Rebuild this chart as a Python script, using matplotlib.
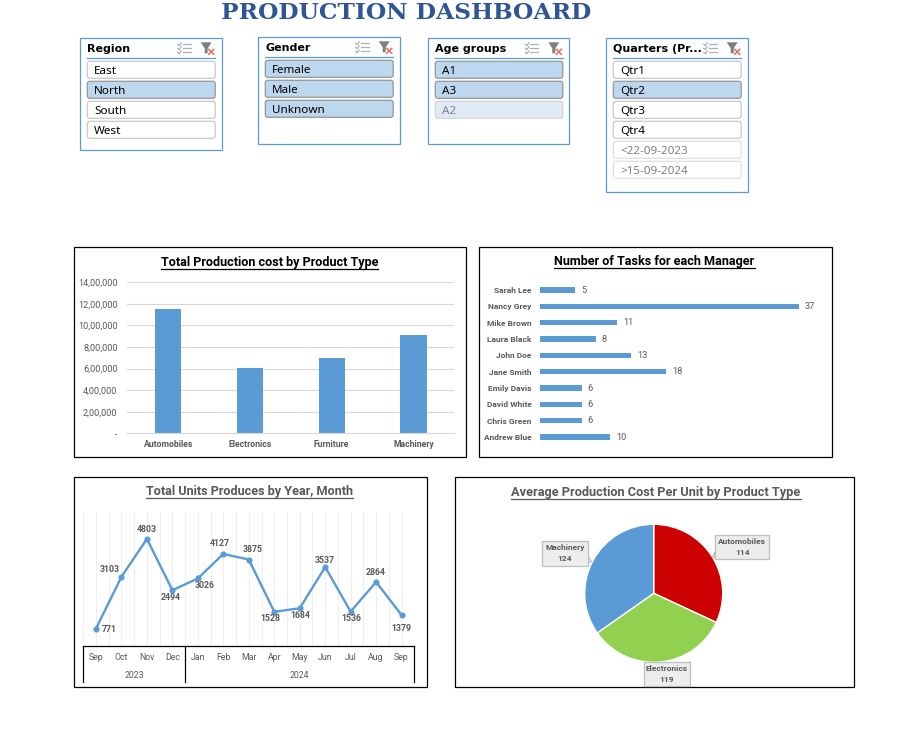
import matplotlib
matplotlib.use("Agg")
import matplotlib.pyplot as plt
from matplotlib.patches import FancyBboxPatch, Rectangle, Polygon

W, H = 898, 748

# data
product_types = ["Automobiles", "Electronics", "Furniture", "Machinery"]
production_cost = [1152000, 605000, 698000, 912000]
cost_ticks = [0, 200000, 400000, 600000, 800000, 1000000, 1200000, 1400000]
cost_tick_labels = ["-", "2,00,000", "4,00,000", "6,00,000", "8,00,000", "10,00,000", "12,00,000", "14,00,000"]

managers = ["Andrew Blue", "Chris Green", "David White", "Emily Davis", "Jane Smith",
            "John Doe", "Laura Black", "Mike Brown", "Nancy Grey", "Sarah Lee"]
tasks = [10, 6, 6, 6, 18, 13, 8, 11, 37, 5]

months = ["Sep", "Oct", "Nov", "Dec", "Jan", "Feb", "Mar", "Apr", "May", "Jun", "Jul", "Aug", "Sep"]
units = [771, 3103, 4803, 2494, 3026, 4127, 3875, 1528, 1684, 3537, 1536, 2864, 1379]
years = ["2023", "2024"]

pie_types = ["Automobiles", "Electronics", "Machinery"]
pie_values = [114, 119, 124]
pie_colors = ["#CC0000", "#92D050", "#5B9BD5"]

region_items = ["East", "North", "South", "West"]
gender_items = ["Female", "Male", "Unknown"]
age_items = ["A1", "A3", "A2"]
quarter_items = ["Qtr1", "Qtr2", "Qtr3", "Qtr4", "<22-09-2023", ">15-09-2024"]

BLUE = "#5B9BD5"
GREY_TXT = "#595959"

plt.rcParams["font.family"] = ["Roboto", "DejaVu Sans"]

fig = plt.figure(figsize=(W / 100, H / 100), dpi=100, facecolor="white")


def pixel_layer(z):
    # full-figure axes whose data coordinates are image pixels
    a = fig.add_axes([0, 0, 1, 1], zorder=z)
    a.set_xlim(0, W)
    a.set_ylim(H, 0)
    a.axis("off")
    a.patch.set_alpha(0)
    return a


bg = pixel_layer(0)
fg = pixel_layer(5)


def px_axes(x0, y0, x1, y1):
    a = fig.add_axes([x0 / W, 1 - y1 / H, (x1 - x0) / W, (y1 - y0) / H], zorder=2)
    a.patch.set_alpha(0)
    return a


def frame(x0, y0, x1, y1):
    bg.add_patch(Rectangle((x0, y0), x1 - x0, y1 - y0, fc="white", ec="black", lw=0.9))


def chart_title(cx, cy, text, color, size):
    t = fg.text(cx, cy, text, ha="center", va="center", fontsize=size, fontweight="bold", color=color)
    box = t.get_window_extent(fig.canvas.get_renderer())
    fg.plot([box.x0, box.x1], [cy + 6.5, cy + 6.5], color=color, lw=0.9)


def slicer_icons(x, y):
    # the multi-select and clear-filter glyphs in the slicer header
    for i in range(3):
        yy = y - 4 + i * 4
        bg.plot([x, x + 1.5, x + 3.5], [yy, yy + 1.5, yy - 1.5], color="#A6A6A6", lw=0.8)
        bg.plot([x + 5, x + 13], [yy, yy], color="#B0B0B0", lw=0.9)
    bg.add_patch(Polygon([(x + 23, y - 6), (x + 34, y - 6), (x + 30, y), (x + 30, y + 5), (x + 27, y + 5), (x + 27, y)],
                         fc="#7F7F7F", ec="none"))
    bg.plot([x + 31, x + 36], [y + 1, y + 6], color="#E46C5A", lw=1.1)
    bg.plot([x + 31, x + 36], [y + 6, y + 1], color="#E46C5A", lw=1.1)


def slicer(x0, y0, x1, y1, title, items, selected, faded=()):
    bg.add_patch(Rectangle((x0, y0), x1 - x0, y1 - y0, fc="white", ec=BLUE, lw=0.9))
    bg.text(x0 + 7, y0 + 10.5, title, fontsize=8, fontweight="bold", color="black",
            va="center", ha="left", family="DejaVu Sans", zorder=4)
    bg.plot([x0 + 7, x1 - 6.5], [y0 + 20, y0 + 20], color=BLUE, lw=0.9)
    slicer_icons(x1 - 44, y0 + 10)
    for i, name in enumerate(items):
        top = y0 + 23 + i * 20
        on = name in selected
        if name in faded and on:
            fc, ec, tc = "#DEEAF6", "#D0D7DE", "#808080"
        elif name in faded:
            fc, ec, tc = "white", "#E0E0E0", "#808080"
        elif on:
            fc, ec, tc = "#BDD7EE", "#969696", "black"
        else:
            fc, ec, tc = "white", "#C8C8C8", "black"
        bg.add_patch(FancyBboxPatch((x0 + 7, top), x1 - x0 - 13.5, 17,
                                    boxstyle="round,pad=0,rounding_size=2.5", fc=fc, ec=ec, lw=0.9))
        bg.text(x0 + 14, top + 10, name, fontsize=8.4, color=tc, va="center", ha="left",
                family="Noto Sans", zorder=4)


# dashboard heading
bg.text(406, 12.5, "PRODUCTION DASHBOARD", fontsize=16.8, fontweight="bold", color="#2F5597",
        ha="center", va="center", family="DejaVu Serif")

# slicers
slicer(80.3, 38.3, 221.7, 150.3, "Region", region_items, ["North"])
slicer(258.3, 37.3, 399.7, 144.3, "Gender", gender_items, gender_items)
slicer(428.3, 38.3, 569.3, 144.3, "Age groups", age_items, age_items, faded=["A2"])
slicer(606.3, 38.3, 747.7, 192.3, "Quarters (Pr...", quarter_items, ["Qtr2"],
       faded=["<22-09-2023", ">15-09-2024"])

# chart frames
frame(74, 246.5, 465.5, 456.5)
frame(478.5, 246.5, 831.5, 456.5)
frame(73.5, 476.5, 426.5, 686.5)
frame(454.5, 476.5, 853.5, 686.5)

chart_title(269.5, 262.5, "Total Production cost by Product Type", "black", 9.1)
chart_title(654.5, 261.5, "Number of Tasks for each Manager", "black", 9.1)
chart_title(249.5, 491.5, "Total Units Produces by Year, Month", GREY_TXT, 9.1)
chart_title(656, 492.5, "Average Production Cost Per Unit by Product Type", GREY_TXT, 9.2)

# column chart
ax1 = px_axes(127.3, 282.3, 454.3, 433.3)
ax1.bar(range(4), production_cost, width=0.32, color=BLUE, zorder=2)
ax1.set_xlim(-0.5, 3.5)
ax1.set_ylim(0, 1400000)
ax1.set_yticks(cost_ticks, cost_tick_labels, fontsize=6.6, color=GREY_TXT)
ax1.set_xticks(range(4), product_types, fontsize=6.2, color=GREY_TXT, fontweight="bold")
ax1.grid(axis="y", color="#D9D9D9", lw=0.8, zorder=0)
ax1.tick_params(axis="y", length=0, pad=7)
ax1.tick_params(axis="x", length=0, pad=4.5)
for s in ["top", "right", "left"]:
    ax1.spines[s].set_visible(False)
ax1.spines["bottom"].set_color("#D9D9D9")

# horizontal bars
ax2 = px_axes(540, 282, 820, 445.2)
ax2.barh(range(10), tasks, height=0.33, color=BLUE)
ax2.set_xlim(0, 40)
ax2.set_ylim(-0.5, 9.5)
ax2.set_xticks([])
ax2.set_yticks(range(10), managers, fontsize=6.0, color=GREY_TXT, fontweight="bold")
ax2.tick_params(length=0, pad=6)
for s in ax2.spines.values():
    s.set_visible(False)
for i, v in enumerate(tasks):
    ax2.annotate(str(v), (v, i), xytext=(4.2, 0), textcoords="offset points", va="center",
                 fontsize=6.6, color=GREY_TXT)

# line chart
ax3 = px_axes(83.3, 512.3, 414.3, 645.7)
xs = range(len(units))
ax3.plot(xs, units, color=BLUE, lw=1.7, marker="o", ms=3.4, zorder=3)
ax3.set_xlim(-0.5, 12.5)
ax3.set_ylim(0, 6000)
ax3.set_yticks([])
ax3.set_xticks([i * 0.5 - 0.5 for i in range(27)])
ax3.set_xticklabels([])
ax3.grid(axis="x", color="#EFEFEF", lw=0.8, zorder=0)
ax3.tick_params(length=0)
for s in ["top", "right", "left"]:
    ax3.spines[s].set_visible(False)
ax3.spines["bottom"].set_color("black")
ax3.spines["bottom"].set_linewidth(0.9)

# pixel offsets of each data label from its point
label_offsets = [(13, -1), (-12, 7), (0, 9), (-1.5, -7), (7, -7), (-3.5, 10),
                 (4, 10), (-3.5, -7), (1, -7), (0, 7), (1, -7), (0, 10), (0, -13)]
for x, v, off in zip(xs, units, label_offsets):
    ax3.annotate(str(v), (x, v), xytext=off, textcoords="offset pixels", ha="center", va="center",
                 fontsize=6.3, fontweight="bold", color=GREY_TXT, zorder=4)

# month / year table below the line chart
step = (414.3 - 83.3) / 13
for i, m in enumerate(months):
    bg.text(83.3 + step * (i + 0.5), 657, m, fontsize=6.3, color=GREY_TXT, ha="center", va="center")
for xv in [83.3, 185.3, 414.3]:
    bg.plot([xv, xv], [645.7, 681.7], color="black", lw=0.9)
bg.text(134.3, 675, years[0], fontsize=6.3, color=GREY_TXT, ha="center", va="center")
bg.text(299.8, 675, years[1], fontsize=6.3, color=GREY_TXT, ha="center", va="center")

# pie chart
ax4 = px_axes(653.7 - 69, 593.3 - 69, 653.7 + 69, 593.3 + 69)
ax4.pie(pie_values, colors=pie_colors, startangle=90, counterclock=False, radius=1,
        wedgeprops=dict(edgecolor="white", linewidth=1))
ax4.set_xlim(-1, 1)
ax4.set_ylim(-1, 1)

# callout boxes: name, value, box x0, y0, x1, y1, pointer tip
callouts = [(pie_types[0], pie_values[0], 715, 534.7, 769.3, 559.3, (712.3, 557.3)),
            (pie_types[1], pie_values[1], 643.7, 661.7, 689.7, 686, None),
            (pie_types[2], pie_values[2], 542.3, 541.3, 587.7, 566.3, (591.7, 561.7))]
for name, v, x0, y0, x1, y1, tip in callouts:
    if tip is not None:
        edge = x0 if tip[0] < x0 else x1
        fg.add_patch(Polygon([(edge, tip[1] - 6), tip, (edge, tip[1] + 1)], fc="#EDEDED", ec="#BFBFBF", lw=0.8))
    fg.add_patch(Rectangle((x0, y0), x1 - x0, y1 - y0, fc="#EDEDED", ec="#BFBFBF", lw=0.9))
    cx = (x0 + x1) / 2
    fg.text(cx, y0 + 6.5, name, fontsize=6.0, fontweight="bold", color=GREY_TXT, ha="center", va="center")
    fg.text(cx, y0 + 17.5, str(v), fontsize=6.0, fontweight="bold", color=GREY_TXT, ha="center", va="center")

fig.savefig("out.png", dpi=100)
